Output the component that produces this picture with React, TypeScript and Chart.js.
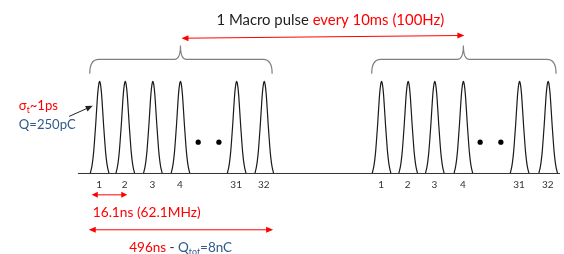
import React, { useEffect, useRef } from "react";
import { Chart, registerables } from "chart.js";

Chart.register(...registerables);

// ---- data (diagram time axis in arbitrary units, amplitude 0..1) ----
const bunchLabels = ["1", "2", "3", "4", "31", "32"];
const macro1Positions = [97, 123, 151, 179, 236, 264];
const macro2Positions = [383, 410, 437, 466, 523, 552];
const ellipsis1 = [197, 218];
const ellipsis2 = [483, 504];
const ellipsisLevel = 0.34;
// single bunch shape: offset from centre / relative amplitude
const profileOffsets = [-9.5, -8, -7, -6, -5, -4, -3, -2, -1, 0, 1, 2, 3, 4, 5, 6, 7, 8, 9.5];
const profileLevels = [0, 0.07, 0.14, 0.24, 0.38, 0.53, 0.7, 0.86, 0.96, 1, 0.96, 0.86, 0.7, 0.53, 0.38, 0.24, 0.14, 0.07, 0];
const baselineRange = [75, 564];

const RED = "#ff0000";
const BLUE = "#2f5a8c";
const INK = "#1e1e1e";
const FAMILY = "Lato, 'Open Sans', sans-serif";

type Run = { text: string; color: string; sub?: boolean };

function drawRuns(
  ctx: CanvasRenderingContext2D,
  runs: Run[],
  x: number,
  y: number,
  targetWidth: number,
  align: "left" | "center",
  fixedSize?: number
): number {
  const base = 13;
  const measure = (size: number) => {
    let w = 0;
    for (const r of runs) {
      ctx.font = `${r.sub ? size * 0.65 : size}px ${FAMILY}`;
      w += ctx.measureText(r.text).width;
    }
    return w;
  };
  const size = fixedSize ?? (base * targetWidth) / measure(base);
  const total = measure(size);
  let cx = align === "center" ? x - total / 2 : x;
  ctx.textBaseline = "middle";
  ctx.textAlign = "left";
  for (const r of runs) {
    const s = r.sub ? size * 0.65 : size;
    ctx.font = `${s}px ${FAMILY}`;
    ctx.fillStyle = r.color;
    ctx.fillText(r.text, cx, r.sub ? y + size * 0.32 : y);
    cx += ctx.measureText(r.text).width;
  }
  return size;
}

function arrow(
  ctx: CanvasRenderingContext2D,
  x1: number,
  y1: number,
  x2: number,
  y2: number,
  color: string,
  both: boolean,
  head = 7,
  half = 3
) {
  ctx.save();
  ctx.strokeStyle = color;
  ctx.fillStyle = color;
  ctx.lineWidth = 1;
  const a = Math.atan2(y2 - y1, x2 - x1);
  const drawHead = (tx: number, ty: number, ang: number) => {
    ctx.beginPath();
    ctx.moveTo(tx, ty);
    ctx.lineTo(tx - head * Math.cos(ang) + half * Math.sin(ang), ty - head * Math.sin(ang) - half * Math.cos(ang));
    ctx.lineTo(tx - head * Math.cos(ang) - half * Math.sin(ang), ty - head * Math.sin(ang) + half * Math.cos(ang));
    ctx.closePath();
    ctx.fill();
  };
  ctx.beginPath();
  ctx.moveTo(x1 + (both ? head * 0.8 * Math.cos(a) : 0), y1 + (both ? head * 0.8 * Math.sin(a) : 0));
  ctx.lineTo(x2 - head * 0.8 * Math.cos(a), y2 - head * 0.8 * Math.sin(a));
  ctx.stroke();
  drawHead(x2, y2, a);
  if (both) drawHead(x1, y1, a + Math.PI);
  ctx.restore();
}

function brace(ctx: CanvasRenderingContext2D, x0: number, x1: number, cx: number, yEnd: number, yLine: number, yTip: number) {
  ctx.save();
  ctx.strokeStyle = "#808080";
  ctx.lineWidth = 1.2;
  ctx.beginPath();
  ctx.moveTo(x0, yEnd);
  ctx.quadraticCurveTo(x0, yLine, x0 + 9, yLine);
  ctx.lineTo(cx - 6, yLine);
  ctx.quadraticCurveTo(cx, yLine, cx, yTip);
  ctx.quadraticCurveTo(cx, yLine, cx + 6, yLine);
  ctx.lineTo(x1 - 9, yLine);
  ctx.quadraticCurveTo(x1, yLine, x1, yEnd);
  ctx.stroke();
  ctx.restore();
}

function pulseData(center: number) {
  return profileOffsets.map((d, i) => ({ x: center + d, y: profileLevels[i] }));
}

export default function App() {
  const ref = useRef<HTMLCanvasElement>(null);

  useEffect(() => {
    const canvas = ref.current!;
    const allCenters = [...macro1Positions, ...macro2Positions];
    const datasets: any[] = [
      {
        data: [
          { x: baselineRange[0], y: 0 },
          { x: baselineRange[1], y: 0 },
        ],
        borderColor: "#333",
        borderWidth: 1,
        pointRadius: 0,
      },
      ...allCenters.map((c) => ({
        data: pulseData(c),
        borderColor: "#1a1a1a",
        borderWidth: 1.2,
        pointRadius: 0,
        cubicInterpolationMode: "monotone",
      })),
      {
        data: [...ellipsis1, ...ellipsis2].map((x) => ({ x, y: ellipsisLevel })),
        showLine: false,
        pointRadius: 2.6,
        pointBackgroundColor: "#000",
        pointBorderColor: "#000",
        borderWidth: 0,
      },
    ];

    const annotations = {
      id: "annotations",
      afterDatasetsDraw(chart: any) {
        const ctx: CanvasRenderingContext2D = chart.ctx;
        const xs = chart.scales.x;
        const ys = chart.scales.y;
        const X = (v: number) => xs.getPixelForValue(v);
        const Y = (v: number) => ys.getPixelForValue(v);
        ctx.save();

        // braces over each macro pulse, cusp at bunch 4
        const groups = [macro1Positions, macro2Positions];
        for (const g of groups) {
          brace(ctx, X(g[0] - 10), X(g[g.length - 1] + 8), X(g[3]), Y(1.085), Y(1.24), Y(1.39));
        }
        // macro pulse spacing arrow
        arrow(ctx, X(macro1Positions[3] + 1), Y(1.47), X(macro2Positions[3] + 1), Y(1.5), RED, true);

        // title
        drawRuns(
          ctx,
          [
            { text: "1 Macro pulse ", color: INK },
            { text: "every 10ms (100Hz)", color: RED },
          ],
          X(331),
          Y(1.67),
          228,
          "center"
        );

        // bunch labels
        ctx.font = `10px ${FAMILY}`;
        ctx.fillStyle = "#333";
        ctx.textAlign = "center";
        ctx.textBaseline = "middle";
        for (const g of groups) {
          g.forEach((c, i) => ctx.fillText(bunchLabels[i], X(c - 0.5), Y(-0.128)));
        }

        // left labels
        const qSize = drawRuns(ctx, [{ text: "Q=250pC", color: BLUE }], X(15), Y(0.53), 57, "left");
        drawRuns(
          ctx,
          [
            { text: "σ", color: RED },
            { text: "t", color: RED, sub: true },
            { text: "~1ps", color: RED },
          ],
          X(15),
          Y(0.735),
          0,
          "left",
          qSize
        );
        arrow(ctx, X(66), Y(0.62), X(90), Y(0.735), "#222", false, 7, 3);

        // bunch spacing
        arrow(ctx, X(89), Y(-0.232), X(125), Y(-0.232), RED, true, 6, 3);
        drawRuns(ctx, [{ text: "16.1ns (62.1MHz)", color: RED }], X(90), Y(-0.43), 108, "left");

        // train length
        arrow(ctx, X(86), Y(-0.612), X(273), Y(-0.612), RED, true, 7, 3);
        drawRuns(
          ctx,
          [
            { text: "496ns", color: RED },
            { text: " - ", color: INK },
            { text: "Q", color: BLUE },
            { text: "tot", color: BLUE, sub: true },
            { text: "=8nC", color: BLUE },
          ],
          X(127),
          Y(-0.81),
          103,
          "left"
        );
        ctx.restore();
      },
    };

    const chart = new Chart(canvas, {
      type: "line",
      data: { datasets },
      options: {
        responsive: false,
        animation: false,
        events: [],
        layout: { padding: 0 },
        plugins: { legend: { display: false }, tooltip: { enabled: false } },
        scales: {
          x: { type: "linear", min: 0, max: 564, display: false },
          y: { type: "linear", min: -0.8316, max: 1.842, display: false },
        },
      },
      plugins: [annotations],
    } as any);
    return () => chart.destroy();
  }, []);

  return (
    <canvas
      ref={ref}
      width={564}
      height={254}
      style={{ position: "fixed", left: 0, top: 0, width: 564, height: 254, background: "#fff", display: "block" }}
    />
  );
}
